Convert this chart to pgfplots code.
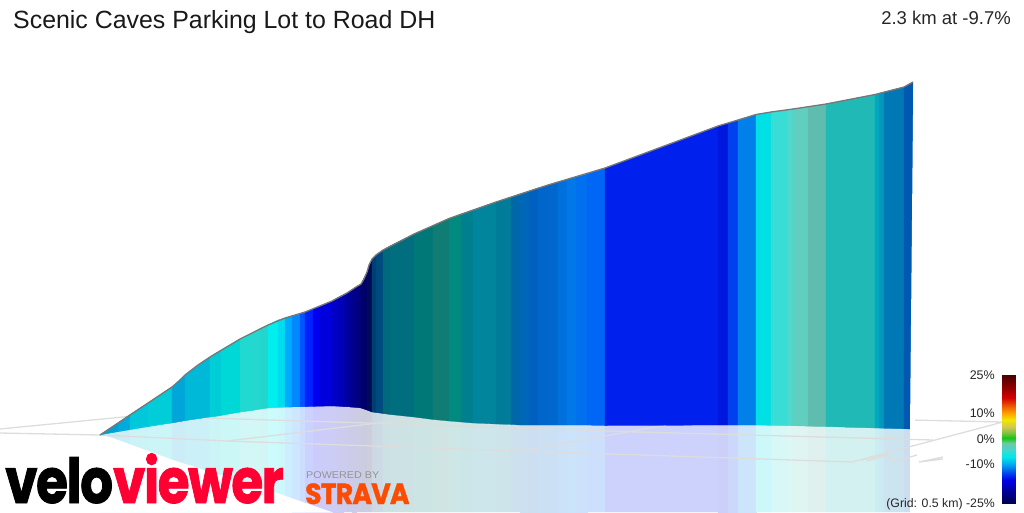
\documentclass[border=0pt]{standalone}
\usepackage{fontspec}
\usepackage{graphicx}
\usepackage{pgfplots}
\pgfplotsset{compat=1.18}
\setmainfont{Liberation Sans}
\newfontfamily\logofont[LetterSpace=-3,BoldFeatures={FakeBold=1.5}]{Poppins}
% one band: x1 top1 bottom1 x2 top2 bottom2 r g b
\newcommand\BMain[9]{\addplot[draw={rgb,255:red,#7;green,#8;blue,#9},line width=0.25pt,fill={rgb,255:red,#7;green,#8;blue,#9}] coordinates {(#1,#2) (#4,#5) (#4,#6) (#1,#3)} --cycle;}
\newcommand\BRefl[9]{\addplot[draw={rgb,255:red,#7;green,#8;blue,#9},line width=0.25pt,fill={rgb,255:red,#7;green,#8;blue,#9}] coordinates {(#1,#3) (#4,#6) (#4,512) (#1,512)} --cycle;}
\newcommand\Bands{%
\B{100}{435}{435}{118}{423}{431}{0}{160}{208}
\B{118}{423}{431}{130}{414.5}{428.5}{0}{170}{221}
\B{130}{414.5}{428.5}{148}{403}{426}{0}{200}{218}
\B{148}{403}{426}{172}{387}{423}{0}{205}{216}
\B{172}{387}{423}{185}{375}{420.5}{0}{165}{218}
\B{185}{375}{420.5}{210}{357}{417}{0}{184}{216}
\B{210}{357}{417}{215}{353.5}{416.5}{0}{207}{216}
\B{215}{353.5}{416.5}{221}{350}{415.5}{0}{204}{214}
\B{221}{350}{415.5}{240}{339}{412}{0}{216}{216}
\B{240}{339}{412}{252}{333}{410.5}{32}{218}{210}
\B{252}{333}{410.5}{261}{328}{409}{36}{216}{208}
\B{261}{328}{409}{268}{325}{408}{34}{213}{205}
\B{268}{325}{408}{278}{320}{407}{0}{238}{238}
\B{278}{320}{407}{285}{318}{406.5}{0}{221}{238}
\B{285}{318}{406.5}{292}{316}{406}{0}{170}{255}
\B{292}{316}{406}{300}{314}{406}{0}{136}{255}
\B{300}{314}{406}{305}{312}{406}{0}{85}{255}
\B{305}{312}{406}{313}{309}{406}{0}{34}{255}
\B{313}{309}{406}{319}{307}{406}{0}{0}{240}
\B{319}{307}{406}{332}{301}{406}{0}{0}{221}
\B{332}{301}{406}{337}{298}{406}{0}{0}{200}
\B{337}{298}{406}{343}{295}{406}{0}{0}{187}
\B{343}{295}{406}{347}{293}{406.5}{0}{0}{170}
\B{347}{293}{406.5}{352}{290}{407}{0}{0}{153}
\B{352}{290}{407}{356}{287}{407}{0}{0}{140}
\B{356}{287}{407}{361}{284}{408}{0}{0}{128}
\B{361}{284}{408}{367}{272}{410}{0}{0}{106}
\B{367}{272}{410}{372}{259}{412}{0}{10}{90}
\B{372}{259}{412}{376}{255}{412.5}{0}{64}{112}
\B{376}{255}{412.5}{383}{250}{413.5}{0}{74}{127}
\B{383}{250}{413.5}{390}{246}{414.5}{0}{106}{124}
\B{390}{246}{414.5}{414}{234}{417}{0}{110}{127}
\B{414}{234}{417}{433}{226}{419.5}{0}{120}{120}
\B{433}{226}{419.5}{449}{218.5}{421}{16}{124}{116}
\B{449}{218.5}{421}{461}{214}{422}{0}{138}{128}
\B{461}{214}{422}{473}{210}{423}{0}{128}{143}
\B{473}{210}{423}{496}{202}{424}{0}{133}{156}
\B{496}{202}{424}{511}{197}{424.5}{0}{124}{153}
\B{511}{197}{424.5}{520}{194}{425}{0}{104}{168}
\B{520}{194}{425}{529}{191}{425}{0}{102}{184}
\B{529}{191}{425}{538}{188}{425}{0}{96}{192}
\B{538}{188}{425}{548}{185}{425}{0}{102}{204}
\B{548}{185}{425}{558}{182}{425}{0}{104}{204}
\B{558}{182}{425}{567}{179.5}{425}{0}{112}{221}
\B{567}{179.5}{425}{576}{177}{425}{0}{120}{232}
\B{576}{177}{425}{587}{174}{425}{0}{112}{238}
\B{587}{174}{425}{605}{168}{425.5}{0}{102}{245}
\B{605}{168}{425.5}{718}{126}{425}{0}{32}{238}
\B{718}{126}{425}{728}{123}{425}{0}{24}{221}
\B{728}{123}{425}{738}{120}{425}{0}{64}{238}
\B{738}{120}{425}{756}{114.5}{425}{0}{128}{232}
\B{756}{114.5}{425}{771}{112}{425.3}{0}{224}{229}
\B{771}{112}{425.3}{787}{110}{425.6}{56}{221}{213}
\B{787}{110}{425.6}{793}{109}{425.8}{80}{216}{204}
\B{793}{109}{425.8}{808}{107}{426}{96}{207}{192}
\B{808}{107}{426}{826}{104}{426.5}{95}{189}{176}
\B{826}{104}{426.5}{875}{94.5}{428}{32}{185}{181}
\B{875}{94.5}{428}{879}{93.5}{428.1}{0}{168}{192}
\B{879}{93.5}{428.1}{884}{92}{428.3}{0}{152}{188}
\B{884}{92}{428.3}{904}{87}{428.8}{0}{120}{181}
\B{904}{87}{428.8}{913}{82}{429}{0}{88}{176}
}
\pgfplotsset{colormap={vv}{
rgb255(0pt)=(74,0,0); rgb255(15pt)=(160,0,0); rgb255(23pt)=(216,0,0); rgb255(30pt)=(232,80,0);
rgb255(38pt)=(255,160,0); rgb255(45pt)=(240,232,0); rgb255(52pt)=(208,200,80); rgb255(58pt)=(128,192,64);
rgb255(63pt)=(16,200,16); rgb255(68pt)=(112,200,160); rgb255(75pt)=(64,216,208); rgb255(82pt)=(0,232,232);
rgb255(90pt)=(0,160,240); rgb255(97pt)=(0,80,240); rgb255(105pt)=(0,0,232); rgb255(115pt)=(0,0,160); rgb255(128pt)=(0,0,80)}}
\begin{document}
\begin{tikzpicture}
\useasboundingbox (0,0) rectangle (1024pt,512pt);
\begin{axis}[
  scale only axis, width=1024pt, height=512pt,
  xmin=0, xmax=1024, ymin=0, ymax=512, y dir=reverse,
  hide axis, clip=true,
  point meta min=375, point meta max=503,
  anchor=south west, at={(0,0)},
]
% reflection
\let\B\BRefl
\Bands
\addplot[draw=none,fill=white,fill opacity=0.8] coordinates {(100,435) (172,423) (210,417) (268,408) (332,406) (361,408) (372,412) (414,417) (473,423) (605,425.5) (756,425) (875,428) (914,429) (914,513) (99,513)} --cycle;
\addplot[draw=none,fill=white] coordinates {(98,435) (100,435) (110,437) (173,460) (277,493) (333,512.5) (98,512.5)} --cycle;
\addplot[draw=none,fill=white] coordinates {(909.5,429) (916,429) (916,513) (909.5,513)} --cycle;
% ground grid
\pgfplotsset{grid line/.style={draw={rgb,255:red,221;green,221;blue,221},line width=1.3pt}}
\addplot[grid line] coordinates {(0,429) (123,417) (207,408)};
\addplot[grid line] coordinates {(0,433) (100,435) (227,441) (521,451) (852,462) (1003,422) (910,420)};
\addplot[grid line] coordinates {(227,441) (420,418)};
\addplot[grid line] coordinates {(521,451) (666,425)};
\addplot[grid line] coordinates {(190,416) (207,418) (367,423) (638,432) (933,440)};
\addplot[grid line] coordinates {(862,460) (887,454) (893,462) (917,455)};
\addplot[grid line] coordinates {(867,461) (887,455)};
\addplot[grid line] coordinates {(943,457) (919,462) (943,459)};
% profile
\let\B\BMain
\Bands
\addplot[draw=none,fill=white] coordinates {(913.3,82) (915,82) (915,430) (910,430) (910,429)} --cycle;
\addplot[draw={rgb,255:red,119;green,119;blue,119},line width=1.3pt] coordinates {(100,435) (172,387) (179,381) (185,375) (198,365) (210,357) (240,339) (268,325) (285,318) (305,312) (332,301) (347,293) (356,287) (361,284) (364,279) (367,272) (369,265) (372,259) (376,255) (383,250) (414,234) (449,218.5) (496,202) (548,185) (605,168) (718,126) (738,120) (756,114.5) (771,112) (793,109) (826,104) (875,94.5) (904,87) (913,82)};
% scale bar
\addplot[surf,shader=interp,mesh/cols=2,point meta=y,colormap name=vv] coordinates {(1002,375) (1015,375) (1002,503) (1015,503)};
% texts
\node[anchor=base west,inner sep=0pt,font=\fontsize{24.9}{25}\selectfont,text=black!90] at (axis cs:13,28) {Scenic Caves Parking Lot to Road DH};
\node[anchor=base east,inner sep=0pt,font=\fontsize{18.5}{18}\selectfont,text=black!85] at (axis cs:1011,24) {2.3 km at -9.7\%};
\node[anchor=base east,inner sep=0pt,font=\fontsize{12.5}{12}\selectfont,text=black!85] at (axis cs:995,379) {25\%};
\node[anchor=base east,inner sep=0pt,font=\fontsize{12.5}{12}\selectfont,text=black!85] at (axis cs:995,417) {10\%};
\node[anchor=base east,inner sep=0pt,font=\fontsize{12.5}{12}\selectfont,text=black!85] at (axis cs:995,443) {0\%};
\node[anchor=base east,inner sep=0pt,font=\fontsize{12.5}{12}\selectfont,text=black!85] at (axis cs:995,468) {-10\%};
\node[anchor=base east,inner sep=0pt,font=\fontsize{12.3}{12}\selectfont,text=black!85] at (axis cs:995,507) {(Grid: 0.5 km) -25\%};
% logos
\node[anchor=base west,inner sep=0pt,font=\logofont\bfseries\fontsize{62}{62}\selectfont] at (axis cs:5,503) {\scalebox{0.835}[1]{velo\textcolor[HTML]{FF0033}{viewer}}};
\node[anchor=base west,inner sep=0pt,font=\fontsize{9.8}{10}\selectfont,text=black!42] at (axis cs:306,478) {\scalebox{1.1}[1]{POWERED BY}};
\node[anchor=base west,inner sep=0pt,font=\logofont\bfseries\fontsize{29}{29}\selectfont,text={rgb,255:red,252;green,76;blue,2}] at (axis cs:305,504) {\scalebox{0.92}[1]{STRAVA}};
\end{axis}
\end{tikzpicture}
\end{document}
